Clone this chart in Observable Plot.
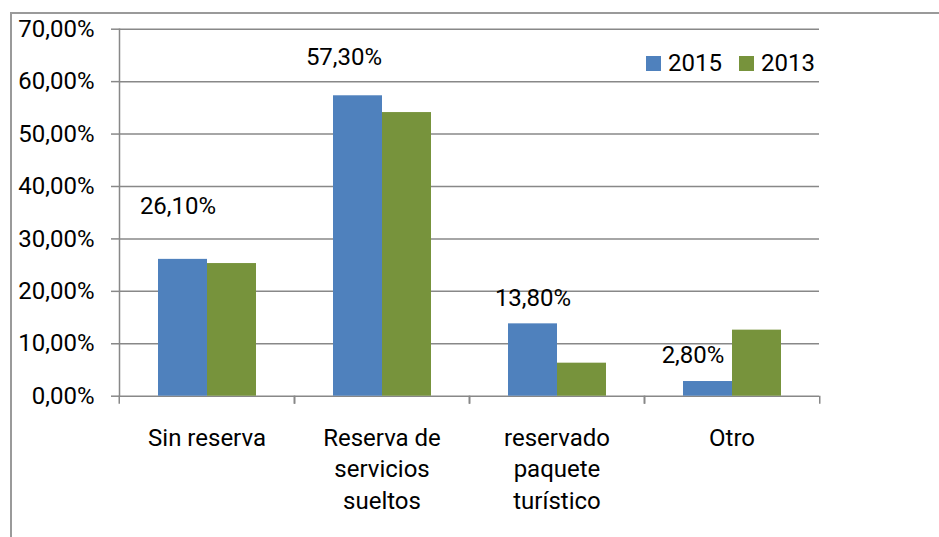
<!DOCTYPE html>
<html>
<head>
<meta charset="utf-8">
<script src="https://cdn.jsdelivr.net/npm/d3@7"></script>
<script src="https://cdn.jsdelivr.net/npm/@observablehq/plot@0.6"></script>
<style>
  html, body { margin: 0; padding: 0; background: #fff; }
  #wrap { position: relative; width: 939px; height: 537px; overflow: hidden; font-family: Roboto, sans-serif; }
  #border { position: absolute; left: 10px; top: 12px; right: -10px; bottom: -10px; border-left: 2px solid #9a9a9a; border-top: 2px solid #9a9a9a; }
  #chart { position: absolute; left: 0; top: 0; }
  #legend { position: absolute; left: 646px; top: 49px; display: flex; align-items: center; font-size: 24px; line-height: 28px; color: #000; }
  #legend .sw { width: 15px; height: 15px; display: inline-block; margin-right: 7px; }
  #legend .item { display: flex; align-items: center; margin-right: 17px; }
</style>
</head>
<body>
<div id="wrap"><div id="border"></div><div id="chart"></div><div id="legend"></div></div>
<script>
const categories = ["Sin reserva", "Reserva de servicios sueltos", "reservado paquete turístico", "Otro"];
const categoryLabels = ["Sin reserva", "Reserva de\nservicios\nsueltos", "reservado\npaquete\nturístico", "Otro"];
const series = ["2015", "2013"];
const values2015 = [26.1, 57.3, 13.8, 2.8];
const values2013 = [25.3, 54.1, 6.3, 12.6];
const seriesColors = ["#4F81BD", "#77933C"];
const yTicks = [0, 10, 20, 30, 40, 50, 60, 70];

// label nudges (layout only): [dx, dy] relative to the top of each 2015 bar
const labelNudge = [[-5, -53], [-14, -38], [0, -26], [-15, -26]];

const fmtPct = v => v.toFixed(2).replace(".", ",") + "%";

const rows = categories.flatMap((c, i) => [
  {category: c, series: series[0], value: values2015[i]},
  {category: c, series: series[1], value: values2013[i]}
]);
const rows2015 = rows.filter(d => d.series === series[0]);

const W = 939, H = 537, mL = 118, mR = 119, mT = 28.7, mB = 141.3;
const step = (W - mL - mR) / categories.length;
const gray = "#888";

const plot = Plot.plot({
  width: W, height: H,
  marginLeft: mL, marginRight: mR, marginTop: mT, marginBottom: mB,
  style: {fontFamily: "Roboto, sans-serif", fontSize: "24px", color: "#000", background: "transparent", overflow: "visible"},
  fx: {domain: categories, padding: 0, axis: null, label: null},
  x: {domain: series, paddingInner: 0, paddingOuter: 0.773, axis: null, label: null},
  y: {domain: [0, 70], axis: null, label: null},
  color: {domain: series, range: seriesColors},
  marks: [
    Plot.gridY(yTicks, {stroke: gray, strokeOpacity: 1, strokeWidth: 1.5}),
    Plot.frame({anchor: "left", facetAnchor: "left", stroke: gray, strokeWidth: 1.5}),
    Plot.axisY(yTicks, {tickSize: 8, tickPadding: 17, stroke: gray, strokeWidth: 1.5, fill: "#000", tickFormat: fmtPct, fontSize: 24, label: null}),
    Plot.axisFx({anchor: "bottom", tickSize: 8, dx: -step / 2, stroke: gray, strokeWidth: 1.5, tickFormat: () => "", label: null}),
    Plot.axisFx({anchor: "bottom", tickSize: 8, dx: step / 2, stroke: gray, strokeWidth: 1.5, tickFormat: () => "", label: null}),
    Plot.axisFx({anchor: "bottom", tickSize: 0, tickPadding: 27, fill: "#000", lineHeight: 1.32, fontSize: 24,
      tickFormat: d => categoryLabels[categories.indexOf(d)], label: null}),
    Plot.barY(rows, {fx: "category", x: "series", y: "value", fill: "series"}),
    ...rows2015.map((r, i) => Plot.text([r], {
      fx: "category", x: "series", y: "value",
      text: d => fmtPct(d.value),
      dx: labelNudge[i][0], dy: labelNudge[i][1],
      fontSize: 24, fill: "#000"
    }))
  ]
});
document.getElementById("chart").appendChild(plot);

const legend = document.getElementById("legend");
series.forEach((s, i) => {
  const item = document.createElement("div");
  item.className = "item";
  const sw = document.createElement("span");
  sw.className = "sw";
  sw.style.background = seriesColors[i];
  const t = document.createElement("span");
  t.textContent = s;
  item.appendChild(sw);
  item.appendChild(t);
  legend.appendChild(item);
});
</script>
</body>
</html>
